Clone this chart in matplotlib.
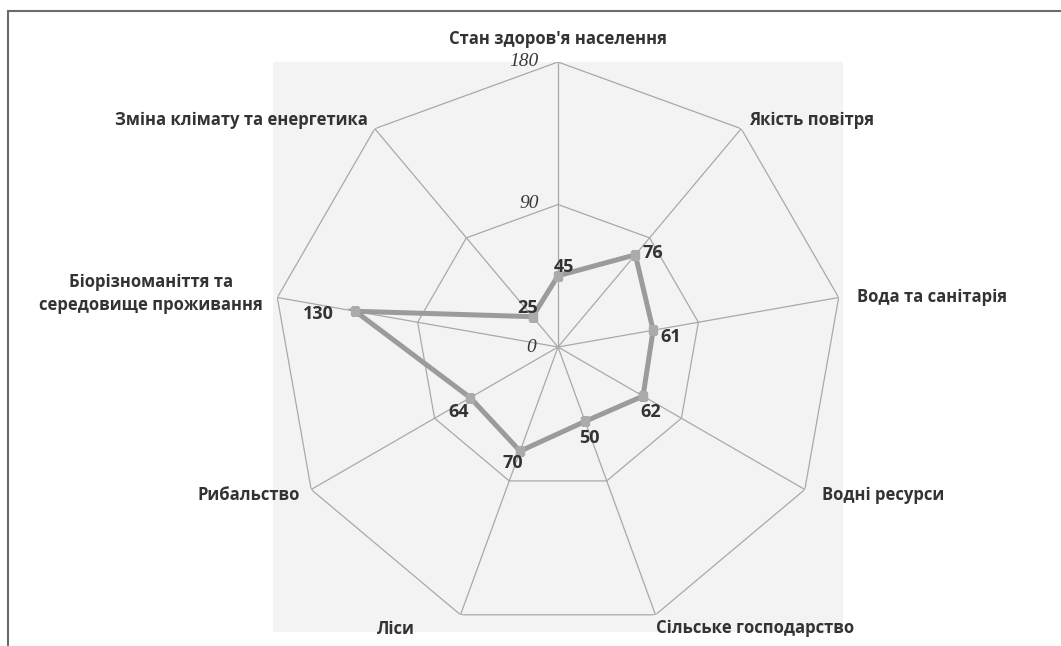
import numpy as np
import matplotlib
matplotlib.use("Agg")
import matplotlib.pyplot as plt
from matplotlib.patches import Rectangle

categories = ["Стан здоров'я населення", "Якість повітря", "Вода та санітарія",
              "Водні ресурси", "Сільське господарство", "Ліси", "Рибальство",
              "Біорізноманіття та\nсередовище проживання", "Зміна клімату та енергетика"]
values = [45, 76, 61, 62, 50, 70, 64, 130, 25]
rticks = [0, 90, 180]
rtick_labels = ["0", "90", "180"]

W, H = 1061, 646
fig = plt.figure(figsize=(W / 100, H / 100), dpi=100)
fig.patch.set_facecolor("white")

# outer frame (right/bottom edges off canvas)
fig.patches.append(Rectangle((8 / W, -0.1), 1.2, (H - 11) / H + 0.1, transform=fig.transFigure,
                             fill=False, edgecolor="#6b6b6b", lw=1.5, zorder=-10))
# gray plot-area background
l, b, w, h = 273 / W, (H - 632) / H, 570 / W, 570 / H
fig.patches.append(Rectangle((l, b), w, h, transform=fig.transFigure,
                             facecolor="#f3f3f3", edgecolor="none", zorder=-10))

ax = fig.add_axes([l, b, w, h], projection="polar")
ax.patch.set_alpha(0)
ax.set_theta_zero_location("N")
ax.set_theta_direction(-1)
ax.set_ylim(0, 180)
ax.grid(False)
ax.spines["polar"].set_visible(False)
ax.set_xticks([])
ax.set_yticks([])

n = len(categories)
angles = np.linspace(0, 2 * np.pi, n, endpoint=False)
closed = np.concatenate([angles, angles[:1]])

grid_c = "#a9a9a9"
for r in rticks[1:]:
    ax.plot(closed, [r] * (n + 1), color=grid_c, lw=0.9, zorder=1)
for a in angles:
    ax.plot([a, a], [0, rticks[-1]], color=grid_c, lw=0.9, zorder=1)

vals = np.array(values + values[:1])
ax.plot(closed, vals, color="#9b9b9b", lw=3.6, zorder=3, solid_joinstyle="miter")
ax.plot(angles, values, ls="none", marker="s", ms=6, color="#ababab", zorder=4)

# radial tick labels
tick_off = [(-22, -1), (-19, 1), (-19, 1)]
for r, t, (dx, dy) in zip(rticks, rtick_labels, tick_off):
    ax.annotate(t, xy=(0, r), xytext=(dx, dy), textcoords="offset pixels",
                ha="right", va="center", fontsize=14, style="italic",
                family="Liberation Serif", color="#3a3a3a", annotation_clip=False)

# category labels
lab_font = dict(family="Open Sans", weight="bold", fontsize=12, color="#333333")
cat_pos = [(0, 23, "center"), (8, 9, "left"), (18, 1, "left"), (17, -5, "left"),
           (1, -13, "left"), (-46, -14, "right"), (-11, -5, "right"),
           (-14, 4, "right"), (-7, 9, "right")]
for a, c, (dx, dy, ha) in zip(angles, categories, cat_pos):
    ax.annotate(c, xy=(a, rticks[-1]), xytext=(dx, dy), textcoords="offset pixels",
                ha=ha, va="center", multialignment="center", linespacing=1.3,
                annotation_clip=False, **lab_font)

# value labels
val_off = [(6, 9), (18, 2), (18, -7), (8, -16), (4, -17), (-7, -12), (-12, -14),
           (-37, -3), (-5, 9)]
for a, v, (dx, dy) in zip(angles, values, val_off):
    ax.annotate(str(v), xy=(a, v), xytext=(dx, dy), textcoords="offset pixels",
                ha="center", va="center", family="Open Sans", weight="bold",
                fontsize=13, color="#333333", zorder=5)

fig.savefig("out.png", dpi=100)
